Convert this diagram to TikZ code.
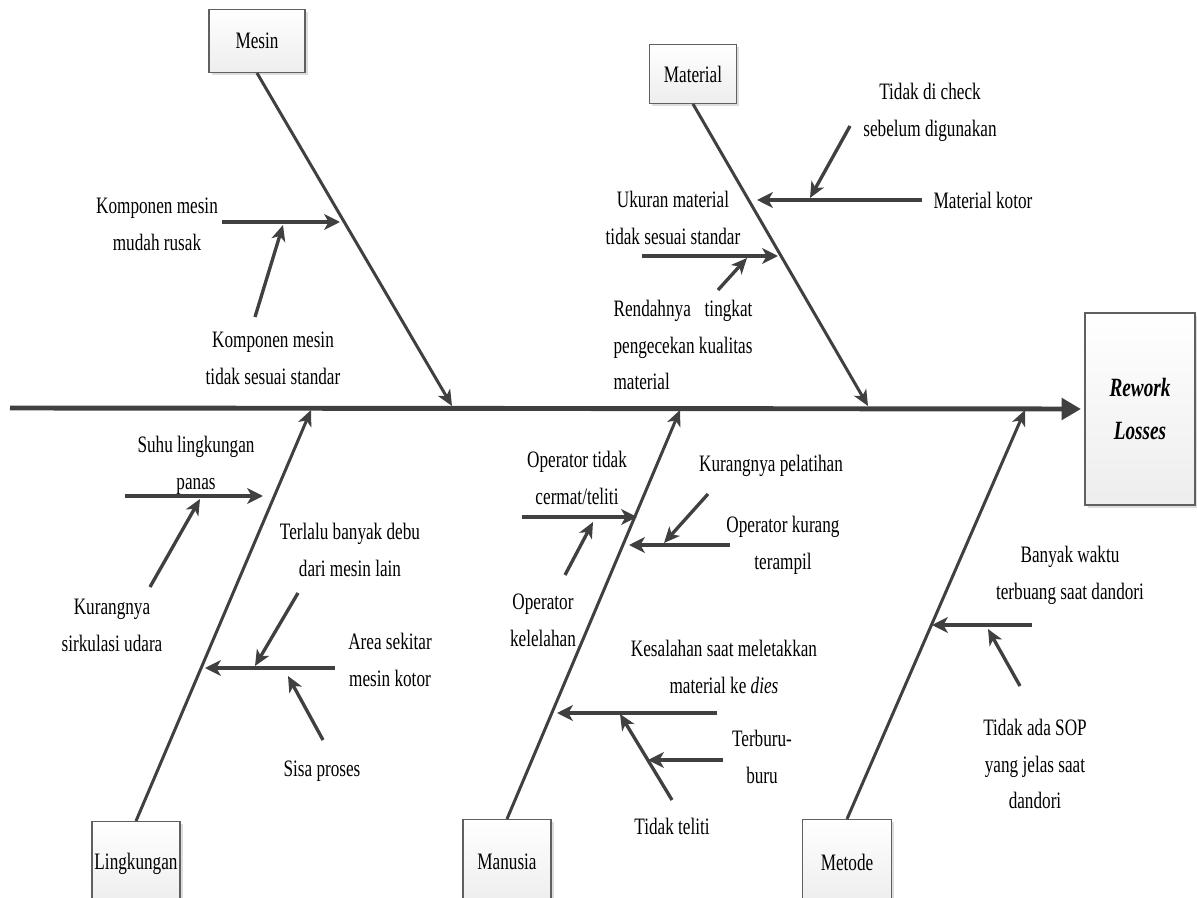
\documentclass[tikz,border=0pt]{standalone}
\usepackage{fontspec}
\usepackage{calc}
\setmainfont[FakeStretch=0.73]{Liberation Serif}
\usetikzlibrary{arrows.meta,shadows}
\definecolor{bonegray}{HTML}{404040}

\begin{document}
\begin{tikzpicture}[x=0.02cm,y=-0.02cm,
  every node/.style={font=\fontsize{13.4}{21}\selectfont, align=center, inner sep=1pt},
  catbox/.style={draw=gray!75!black, line width=0.6pt, top color=white, bottom color=gray!14,
    drop shadow={shadow xshift=1.5pt, shadow yshift=-1.5pt, fill=gray!45, opacity=0.6}},
  spine/.style={draw=bonegray, line width=2.8pt, -{Triangle[length=11pt,width=12pt]}},
  bone/.style={draw=bonegray, line width=1.7pt, -{Stealth[length=9pt,width=8pt,inset=2.5pt]}},
  causew/.style={draw=bonegray, line width=2.6pt, -{Stealth[length=9pt,width=9pt,inset=2.5pt]}},
  causen/.style={draw=bonegray, line width=1.9pt, -{Stealth[length=9pt,width=8pt,inset=2.5pt]}}]

\useasboundingbox (0,0) rectangle (1197,898);

% effect and categories
\node[catbox, minimum width=2.2cm, minimum height=3.84cm,
  font=\fontsize{15}{25}\selectfont\bfseries\itshape] (effect) at (1140,409) {Rework\\Losses};
\node[catbox, minimum width=1.92cm, minimum height=1.26cm] (mesin) at (257,41) {Mesin};
\node[catbox, minimum width=1.74cm, minimum height=1.18cm] (material) at (693,74) {Material};
\node[catbox, minimum width=1.76cm, minimum height=1.7cm] (lingkungan) at (136,864) {Lingkungan};
\node[catbox, minimum width=1.76cm, minimum height=1.7cm] (manusia) at (507,862) {Manusia};
\node[catbox, minimum width=1.78cm, minimum height=1.7cm] (metode) at (847,862) {Metode};

% spine and bones
\coordinate (tail) at (10,408);
\coordinate (mesinhit) at (452,406);
\coordinate (materialhit) at (868,406);
\coordinate (lingkunganhit) at (311,410);
\coordinate (manusiahit) at (680,410);
\coordinate (metodehit) at (1025,410);

\draw[spine, shorten >=2pt] (tail) -- (effect.west);
\foreach \c/\a in {mesin/south, material/south, lingkungan/north, manusia/north, metode/north}
  \draw[bone] (\c.\a) -- (\c hit);

% cause texts
\node (kmr)  at (157,224) {Komponen mesin\\mudah rusak};
\node (kmts) at (273,358) {Komponen mesin\\tidak sesuai standar};
\node (tdc)  at (930,112) {Tidak di check\\sebelum digunakan};
\node (mk)   at (983,200) {Material kotor};
\node (ums)  at (673,218) {Ukuran material\\tidak sesuai standar};
\node[align=left] (rtp) at (683,345)
  {\makebox[\widthof{pengecekan kualitas}][s]{Rendahnya\hfill tingkat}\\pengecekan kualitas\\material};
\node (suhu) at (196,465) {Suhu lingkungan\\panas};
\node (kur)  at (112,625) {Kurangnya\\sirkulasi udara};
\node (debu) at (350,550) {Terlalu banyak debu\\dari mesin lain};
\node (area) at (390,660) {Area sekitar\\mesin kotor};
\node (sisa) at (322,771) {Sisa proses};
\node (otc)  at (577,478) {Operator tidak\\cermat/teliti};
\node (okel) at (543,620) {Operator\\kelelahan};
\node (okt)  at (783,545) {Operator kurang\\terampil};
\node (kpel) at (771,466) {Kurangnya pelatihan};
\node (kes)  at (724,667) {Kesalahan saat meletakkan\\material ke \textit{dies}};
\node (terb) at (762,757) {Terburu-\\buru};
\node (tt)   at (672,826) {Tidak teliti};
\node (bwt)  at (1070,575) {Banyak waktu\\terbuang saat dandori};
\node (sop)  at (1035,764) {Tidak ada SOP\\yang jelas saat\\dandori};

% arrow ends
\coordinate (a1s) at (222,222); \coordinate (a1e) at (340,222);
\coordinate (a2s) at (255,317); \coordinate (a2e) at (283,225);
\coordinate (b1s) at (922,200); \coordinate (b1e) at (757,200);
\coordinate (b2s) at (850,126); \coordinate (b2e) at (810,198);
\coordinate (b3s) at (642,256); \coordinate (b3e) at (778,256);
\coordinate (b4s) at (718,290); \coordinate (b4e) at (747,258);
\coordinate (c1s) at (125,496); \coordinate (c1e) at (263,496);
\coordinate (c2s) at (150,587); \coordinate (c2e) at (200,499);
\coordinate (c3s) at (335,668); \coordinate (c3e) at (205,668);
\coordinate (c4s) at (298,593); \coordinate (c4e) at (255,666);
\coordinate (c5s) at (323,740); \coordinate (c5e) at (288,676);
\coordinate (d1s) at (522,517); \coordinate (d1e) at (637,517);
\coordinate (d2s) at (565,575); \coordinate (d2e) at (593,522);
\coordinate (d3s) at (730,545); \coordinate (d3e) at (629,545);
\coordinate (d4s) at (708,494); \coordinate (d4e) at (664,543);
\coordinate (d5s) at (717,713); \coordinate (d5e) at (557,713);
\coordinate (d6s) at (723,760); \coordinate (d6e) at (648,760);
\coordinate (d7s) at (672,800); \coordinate (d7e) at (620,714);
\coordinate (e1s) at (1032,625); \coordinate (e1e) at (932,625);
\coordinate (e2s) at (1020,686); \coordinate (e2e) at (988,629);

\foreach \s in {a1,b1,b3,c1,c3,d1,d3,d5,d6,e1}
  \draw[causew] (\s s) -- (\s e);
\foreach \s in {a2,b2,b4,c2,c4,c5,d2,d4,d7,e2}
  \draw[causen] (\s s) -- (\s e);
\end{tikzpicture}
\end{document}
